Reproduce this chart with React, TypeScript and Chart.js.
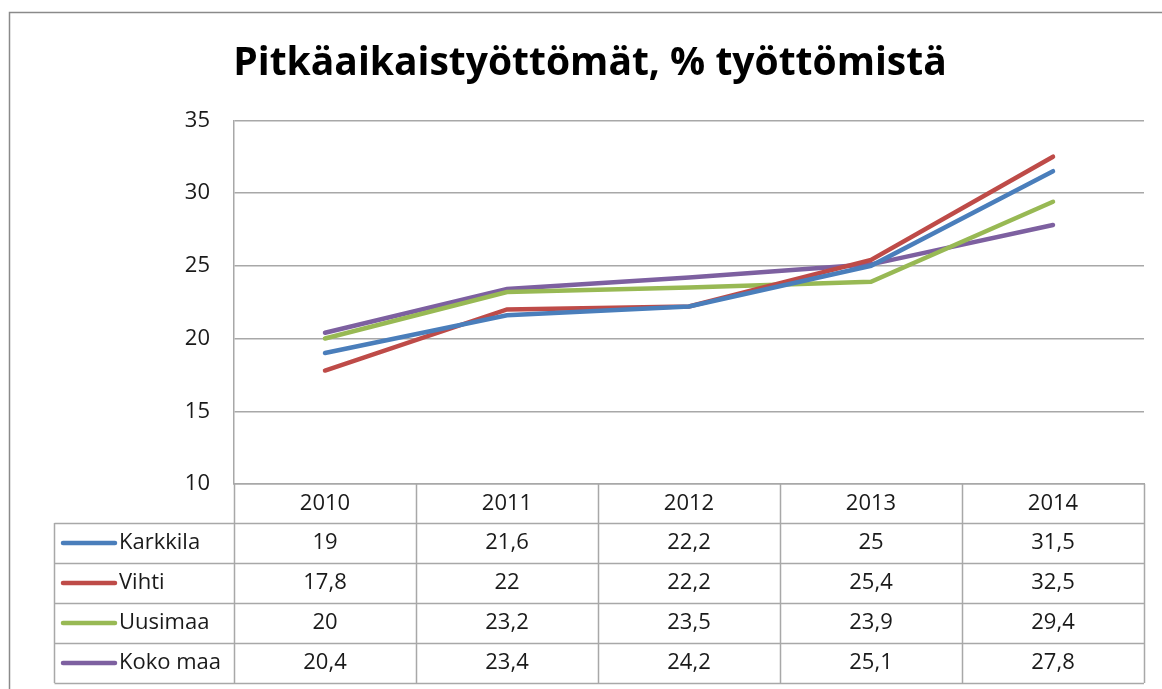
import { useEffect, useRef } from "react";
import { Chart, registerables } from "chart.js";
Chart.register(...registerables);

const years = ["2010", "2011", "2012", "2013", "2014"];
const seriesNames = ["Karkkila", "Vihti", "Uusimaa", "Koko maa"];
const karkkila = [19, 21.6, 22.2, 25, 31.5];
const vihti = [17.8, 22, 22.2, 25.4, 32.5];
const uusimaa = [20, 23.2, 23.5, 23.9, 29.4];
const kokoMaa = [20.4, 23.4, 24.2, 25.1, 27.8];
const yMin = 10;
const yMax = 35;
const yStep = 5;
const titleText = "Pitkäaikaistyöttömät, % työttömistä";

const FONT = "'Open Sans', 'Noto Sans', sans-serif";
const GRID = "#a8a8a8";
const TEXT = "#1a1a1a";
const colors = ["#4a7ebb", "#be4b48", "#98b954", "#7d60a0"];

const fmt = (v: number) => String(v).replace(".", ",");

const framePlugin = {
  id: "frame",
  beforeDraw(chart: any) {
    const ctx = chart.ctx;
    ctx.save();
    ctx.fillStyle = "#ffffff";
    ctx.fillRect(0, 0, chart.width, chart.height);
    ctx.strokeStyle = "#8a8a8a";
    ctx.lineWidth = 1.5;
    ctx.beginPath();
    ctx.moveTo(9.5, chart.height);
    ctx.lineTo(9.5, 12.5);
    ctx.lineTo(chart.width, 12.5);
    ctx.stroke();
    ctx.restore();
  },
};

const tablePlugin = {
  id: "dataTable",
  afterDraw(chart: any) {
    const ctx = chart.ctx;
    const xs = chart.scales.x;
    const area = chart.chartArea;
    const n = chart.data.labels.length;
    const half = (xs.getPixelForValue(1) - xs.getPixelForValue(0)) / 2;
    const headerH = 39;
    const rowH = 40;
    const tableLeft = 54.5;
    const rows = chart.data.datasets.length;
    const top = area.bottom;
    const bottom = top + headerH + rows * rowH;
    const right = xs.getPixelForValue(n - 1) + half;
    ctx.save();
    ctx.strokeStyle = GRID;
    ctx.lineWidth = 1.5;
    ctx.beginPath();
    for (let i = 0; i < n; i++) {
      const x = Math.round(xs.getPixelForValue(i) - half) + 0.5;
      ctx.moveTo(x, top);
      ctx.lineTo(x, bottom);
    }
    ctx.moveTo(Math.round(right) + 0.5, top);
    ctx.lineTo(Math.round(right) + 0.5, bottom);
    ctx.moveTo(tableLeft, top + headerH);
    ctx.lineTo(tableLeft, bottom);
    for (let r = 0; r <= rows; r++) {
      const y = Math.round(top + headerH + r * rowH) + 0.5;
      ctx.moveTo(tableLeft, y);
      ctx.lineTo(right, y);
    }
    ctx.stroke();

    ctx.font = `22px ${FONT}`;
    ctx.textBaseline = "middle";
    chart.data.datasets.forEach((ds: any, r: number) => {
      const cy = top + headerH + r * rowH + rowH / 2;
      ctx.strokeStyle = ds.borderColor;
      ctx.lineWidth = 4.5;
      ctx.lineCap = "round";
      ctx.beginPath();
      ctx.moveTo(63, cy);
      ctx.lineTo(115, cy);
      ctx.stroke();
      ctx.fillStyle = TEXT;
      ctx.textAlign = "left";
      ctx.fillText(ds.label, 119, cy);
      ctx.textAlign = "center";
      ds.data.forEach((v: number, i: number) => {
        ctx.fillText(fmt(v), xs.getPixelForValue(i), cy);
      });
    });
    ctx.restore();
  },
};

export default function App() {
  const ref = useRef<HTMLCanvasElement | null>(null);
  useEffect(() => {
    if (!ref.current) return;
    const series = [karkkila, vihti, uusimaa, kokoMaa];
    const chart = new Chart(ref.current, {
      type: "line",
      data: {
        labels: years,
        datasets: series.map((d, i) => ({
          label: seriesNames[i],
          data: d,
          borderColor: colors[i],
          backgroundColor: colors[i],
          borderWidth: 4.5,
          pointRadius: 0,
          tension: 0,
          borderCapStyle: "round" as const,
        })),
      },
      options: {
        animation: false,
        responsive: false,
        devicePixelRatio: 1,
        layout: { padding: { left: 36, right: 18, top: 0, bottom: 0 } },
        plugins: {
          legend: { display: false },
          tooltip: { enabled: false },
          title: {
            display: true,
            text: titleText,
            color: "#000",
            font: { family: FONT, size: 39, weight: "bold" },
            padding: { top: 40, bottom: 33.5 },
          },
        },
        scales: {
          x: {
            type: "category",
            offset: true,
            grid: { display: false, drawTicks: false },
            border: { display: true, color: GRID, width: 1.5 },
            ticks: { color: TEXT, font: { family: FONT, size: 22 }, padding: 7, maxRotation: 0 },
            afterFit: (s: any) => {
              s.height = 205;
            },
          },
          y: {
            min: yMin,
            max: yMax,
            grid: { color: GRID, lineWidth: 1.5, drawTicks: false },
            border: { display: true, color: GRID, width: 1.5 },
            ticks: { stepSize: yStep, color: TEXT, font: { family: FONT, size: 22 }, padding: 24 },
            afterFit: (s: any) => {
              s.width = 198;
            },
          },
        },
      },
      plugins: [framePlugin, tablePlugin],
    });
    return () => chart.destroy();
  }, []);
  return (
    <div style={{ position: "absolute", left: 0, top: 0, width: 1162, height: 689 }}>
      <canvas ref={ref} width={1162} height={689} />
    </div>
  );
}
